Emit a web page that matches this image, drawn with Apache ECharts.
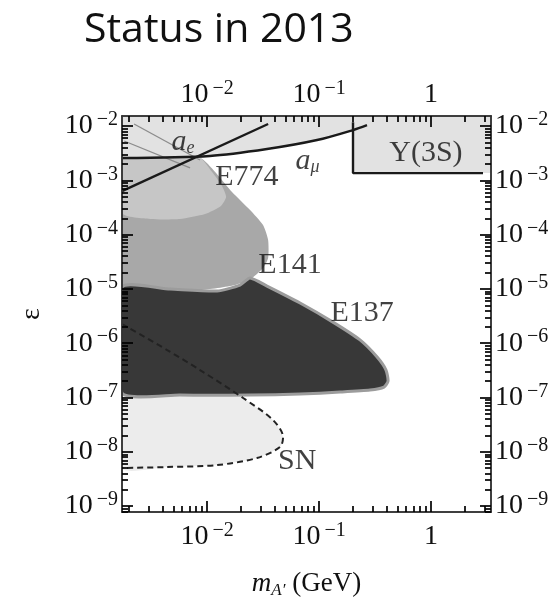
<!DOCTYPE html>
<html>
<head>
<meta charset="utf-8">
<script src="https://cdn.jsdelivr.net/npm/echarts@6/dist/echarts.min.js"></script>
<style>
  html, body { margin: 0; padding: 0; background: #fff; }
  #chart { width: 560px; height: 603px; }
</style>
</head>
<body>
<div id="chart"></div>
<script>
// Axis ranges (GeV for the dark-photon mass, kinetic mixing epsilon)
const massRange = [0.00174, 3.43];
const epsRange = [7.8e-10, 1.53e-2];

// Major tick values
const majorMassTicks = [0.01, 0.1, 1];
const majorEpsTicks = [1e-2, 1e-3, 1e-4, 1e-5, 1e-6, 1e-7, 1e-8, 1e-9];

// Boundaries, as [mass (GeV), epsilon] pairs
const aMuLine = [[0.00174, 2.57e-3], [0.0106, 2.81e-3], [0.0343, 3.77e-3], [0.096, 5.52e-3], [0.201, 8.44e-3], [0.268, 1.04e-2]];
const aeLine = [[0.00174, 6.35e-4], [0.0351, 1.09e-2]];
const upsilonEdge = [[0.201, 1.18e-2], [0.201, 1.36e-3], [2.91, 1.36e-3]];
const e774Region = [[0.00174, 3.61e-3], [0.0083, 2.81e-3], [0.0111, 1.42e-3], [0.0136, 7.85e-4], [0.0148, 4.92e-4],
  [0.0133, 3.36e-4], [0.0096, 2.39e-4], [0.00574, 1.94e-4], [0.0031, 1.94e-4], [0.00174, 2.5e-4]];
const e141Region = [[0.00174, 2.5e-3], [0.00865, 2.57e-3], [0.0118, 1.42e-3], [0.0167, 6.09e-4], [0.0242, 2.84e-4],
  [0.0316, 1.5e-4], [0.0351, 7.96e-5], [0.0351, 3.71e-5], [0.0316, 2.43e-5], [0.0252, 1.59e-5], [0.0178, 1.18e-5],
  [0.00865, 9.55e-6], [0.00174, 1.04e-5]];
const e137Region = [[0.00174, 1.08e-5], [0.00467, 9.96e-6], [0.0123, 9.14e-6], [0.0197, 1.18e-5], [0.0242, 1.59e-5],
  [0.0343, 1.13e-5], [0.0677, 5.5e-6], [0.133, 2.45e-6], [0.232, 1.15e-6], [0.33, 5.57e-7], [0.396, 3.21e-7],
  [0.413, 2.01e-7], [0.38, 1.56e-7], [0.285, 1.37e-7], [0.154, 1.26e-7], [0.0677, 1.16e-7], [0.0242, 1.11e-7],
  [0.00574, 1.11e-7], [0.00174, 1.21e-7]];
const snBoundary = [[0.00174, 2.26e-6], [0.0044, 7.5e-7], [0.00865, 3.21e-7], [0.021, 9.8e-8], [0.0388, 3.85e-8],
  [0.0477, 1.87e-8], [0.0449, 1.23e-8], [0.0279, 7.69e-9], [0.0123, 5.71e-9], [0.0044, 5.25e-9], [0.00174, 5.03e-9]];
const contourA = [[0.00223, 1.09e-2], [0.00865, 2.37e-3]];
const contourB = [[0.00182, 5.3e-3], [0.00705, 1.69e-3]];

// Region captions anchored in data space
const regionLabels = [
  { text: 'E774', mass: 2.27e-2, eps: 1.15e-3 },
  { text: 'E141', mass: 5.5e-2, eps: 2.75e-5 },
  { text: 'E137', mass: 0.242, eps: 3.6e-6 },
  { text: '{i|a}{sub|e}', mass: 6.11e-3, eps: 5.07e-3 },
  { text: '{i|a}{sub|μ}', mass: 7.9e-2, eps: 2.26e-3 },
  { text: 'Υ(3S)', mass: 0.90, eps: 3.19e-3 },
  { text: 'SN', mass: 6.37e-2, eps: 6.78e-9 }
];

const lg = Math.log10;
const toLog = pts => pts.map(p => [lg(p[0]), lg(p[1])]);
const serif = 'Liberation Serif';
const ink = '#111';

function minorTicks(lo, hi) {
  const out = [];
  for (let d = Math.floor(lg(lo)); d <= Math.ceil(lg(hi)); d++) {
    for (let k = 2; k <= 9; k++) {
      const v = k * Math.pow(10, d);
      if (v > lo && v < hi) out.push(lg(v));
    }
  }
  return out;
}

function powLabel(v) {
  const n = Math.round(v);
  if (n === 0) return '{b|1}';
  return '{b|10}{s|−' + (-n) + '}';
}
const powRich = {
  b: { fontFamily: serif, fontSize: 28, color: ink, lineHeight: 32 },
  s: { fontFamily: serif, fontSize: 20, color: ink, verticalAlign: 'top', lineHeight: 12, padding: [0, 0, 0, 4] }
};

const xLo = lg(massRange[0]), xHi = lg(massRange[1]);
const yLo = lg(epsRange[0]), yHi = lg(epsRange[1]);

function xAxisDef(position, major, withName) {
  const a = {
    type: 'value', position, min: xLo, max: xHi, gridIndex: 0, z: 50,
    splitLine: { show: false },
    axisLine: { show: true, onZero: false, lineStyle: { color: '#333', width: 1.5 } },
    axisTick: { show: true, inside: true, length: major ? 11 : 6,
      customValues: major ? majorMassTicks.map(lg) : minorTicks(massRange[0], massRange[1]),
      lineStyle: { color: '#000', width: 1.7 } },
    axisLabel: { show: major, customValues: majorMassTicks.map(lg), formatter: powLabel, rich: powRich,
      margin: position === 'top' ? 5 : 9 }
  };
  if (withName) {
    Object.assign(a, {
      name: '{i|m}{sub|A′}{n| (GeV)}', nameLocation: 'middle', nameGap: 57,
      nameTextStyle: { rich: {
        i: { fontFamily: serif, fontStyle: 'italic', fontSize: 27, color: ink, lineHeight: 30 },
        sub: { fontFamily: serif, fontStyle: 'italic', fontSize: 17, color: ink, verticalAlign: 'bottom', lineHeight: 8 },
        n: { fontFamily: serif, fontSize: 27, color: ink, lineHeight: 30 }
      } }
    });
  }
  return a;
}

function yAxisDef(position, major, withName) {
  const a = {
    type: 'value', position, min: yLo, max: yHi, gridIndex: 0, z: 50,
    splitLine: { show: false },
    axisLine: { show: true, onZero: false, lineStyle: { color: '#333', width: 1.5 } },
    axisTick: { show: true, inside: true, length: major ? 11 : 6,
      customValues: major ? majorEpsTicks.map(lg) : minorTicks(epsRange[0], epsRange[1]),
      lineStyle: { color: '#000', width: 1.7 } },
    axisLabel: { show: major, customValues: majorEpsTicks.map(lg), formatter: powLabel, rich: powRich, margin: 4 }
  };
  if (withName) {
    Object.assign(a, {
      name: 'ε', nameLocation: 'middle', nameGap: 76,
      nameTextStyle: { fontFamily: serif, fontSize: 28, color: ink }
    });
  }
  return a;
}

function polygonSeries(pts, style, z, smooth) {
  const logPts = toLog(pts);
  return {
    type: 'custom', xAxisIndex: 0, yAxisIndex: 0, silent: true, z, clip: true,
    data: [logPts[0]],
    renderItem: (params, api) => ({
      type: 'polygon',
      shape: { points: logPts.map(p => api.coord(p)), smooth: smooth || 0 },
      style
    })
  };
}

function lineSeries(pts, color, width, type, z, smooth) {
  return {
    type: 'line', xAxisIndex: 0, yAxisIndex: 0, silent: true, z,
    data: toLog(pts), showSymbol: false, symbol: 'none', smooth: smooth || false,
    lineStyle: { color, width, type: type || 'solid' }
  };
}

// Light band above the a_mu curve joined with the Upsilon(3S) box
const upsilonMass = upsilonEdge[1][0], upsilonEps = upsilonEdge[1][1];
const lightRegion = [[massRange[0], epsRange[1]], [massRange[1], epsRange[1]], [massRange[1], upsilonEps],
  [upsilonMass, upsilonEps]].concat(aMuLine.filter(p => p[0] <= upsilonMass).slice().reverse());

const chart = echarts.init(document.getElementById('chart'), null, { renderer: 'canvas' });
chart.setOption({
  animation: false,
  backgroundColor: '#fff',
  title: {
    text: 'Status in 2013', left: 79, top: 5,
    textStyle: { fontFamily: 'Open Sans', fontSize: 41, fontWeight: 'normal', color: ink }
  },
  grid: { left: 122, top: 116, width: 369, height: 396, containLabel: false, outerBoundsMode: 'none' },
  xAxis: [xAxisDef('bottom', true, true), xAxisDef('bottom', false), xAxisDef('top', true), xAxisDef('top', false)],
  yAxis: [yAxisDef('left', true, true), yAxisDef('left', false), yAxisDef('right', true), yAxisDef('right', false)],
  series: [
    polygonSeries(snBoundary, { fill: '#ececec' }, 1, 0.2),
    polygonSeries(e141Region, { fill: '#a8a8a8' }, 2, 0.2),
    polygonSeries(e774Region, { fill: '#c6c6c6' }, 3, 0.2),
    polygonSeries(lightRegion, { fill: '#e2e2e2' }, 4, 0),
    polygonSeries(e137Region, { fill: '#383838', stroke: '#9c9c9c', lineWidth: 3, lineJoin: 'round' }, 5, 0.2),
    lineSeries(contourA, '#8c8c8c', 1.3, 'solid', 6),
    lineSeries(contourB, '#8c8c8c', 1.3, 'solid', 6),
    lineSeries(snBoundary, '#222', 2, [6, 4], 7, 0.3),
    lineSeries(aeLine, '#1a1a1a', 2.4, 'solid', 8),
    lineSeries(aMuLine, '#1a1a1a', 2.4, 'solid', 8, 0.3),
    lineSeries(upsilonEdge, '#1a1a1a', 2.4, 'solid', 8),
    {
      type: 'scatter', xAxisIndex: 0, yAxisIndex: 0, silent: true, z: 10, symbolSize: 0,
      data: regionLabels.map(l => ({ value: [lg(l.mass), lg(l.eps)], label: { formatter: l.text } })),
      label: {
        show: true, position: [0, 0], align: 'center', verticalAlign: 'middle',
        fontFamily: serif, fontSize: 30, color: ink, textBorderWidth: 0,
        rich: {
          i: { fontFamily: serif, fontStyle: 'italic', fontSize: 30, color: ink, lineHeight: 30, textBorderWidth: 0 },
          sub: { fontFamily: serif, fontStyle: 'italic', fontSize: 18, color: ink, verticalAlign: 'bottom', lineHeight: 8, textBorderWidth: 0 }
        }
      }
    }
  ]
});
</script>
</body>
</html>
